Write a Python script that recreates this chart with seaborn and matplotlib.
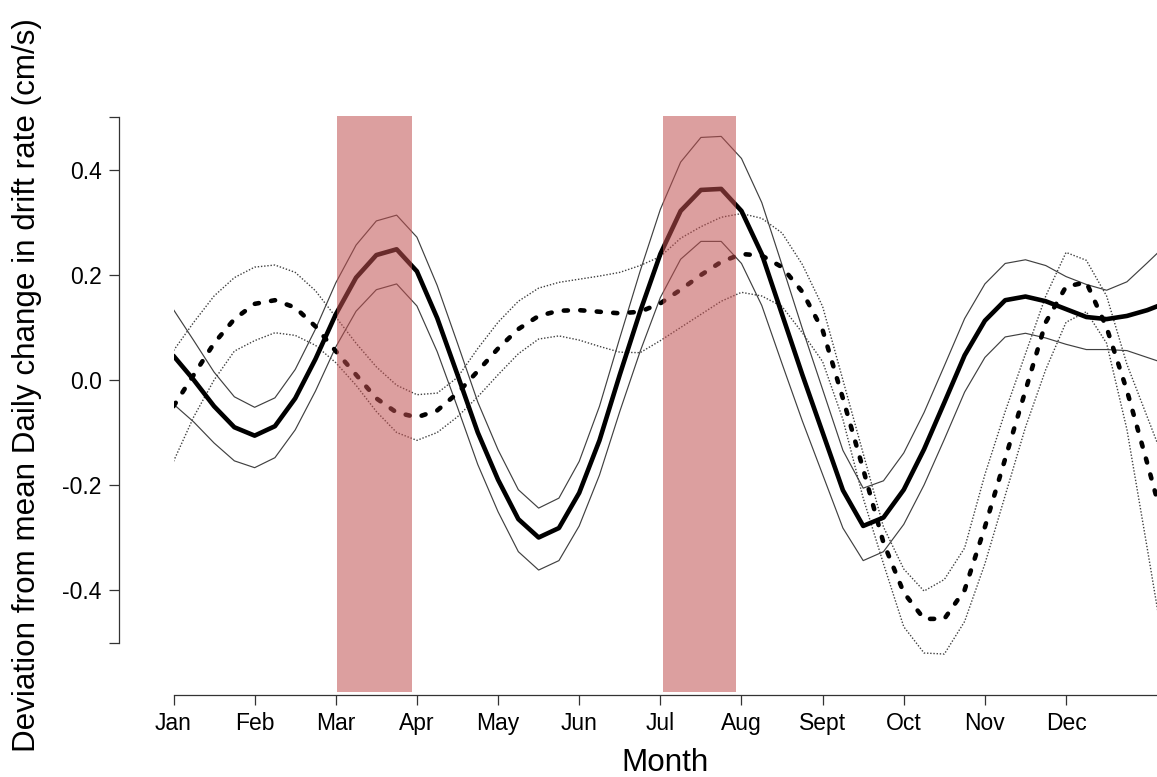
import seaborn as sns
from matplotlib import pyplot as plt

# sample positions (month number, 1 = Jan) at which the curves were read
months = [1.00, 1.25, 1.50, 1.75, 2.00, 2.25, 2.50, 2.75, 3.00, 3.25,
          3.50, 3.75, 4.00, 4.25, 4.50, 4.75, 5.00, 5.25, 5.50, 5.75,
          6.00, 6.25, 6.50, 6.75, 7.00, 7.25, 7.50, 7.75, 8.00, 8.25,
          8.50, 8.75, 9.00, 9.25, 9.50, 9.75, 10.00, 10.25, 10.50, 10.75,
          11.00, 11.25, 11.50, 11.75, 12.00, 12.25, 12.50, 12.75, 13.00, 13.25]

# solid group: fitted mean and its confidence limits
mean_a = [0.046, 0.0, -0.05, -0.09, -0.106, -0.088, -0.035, 0.04, 0.125, 0.195,
          0.238, 0.249, 0.207, 0.118, 0.01, -0.1, -0.19, -0.265, -0.3, -0.282,
          -0.215, -0.115, 0.01, 0.13, 0.24, 0.322, 0.362, 0.364, 0.322, 0.24,
          0.125, 0.01, -0.1, -0.21, -0.278, -0.262, -0.209, -0.132, -0.043, 0.047,
          0.113, 0.152, 0.159, 0.15, 0.135, 0.12, 0.116, 0.122, 0.133, 0.148]
upper_a = [0.134, 0.075, 0.015, -0.032, -0.052, -0.034, 0.02, 0.097, 0.185, 0.257,
           0.303, 0.314, 0.272, 0.18, 0.07, -0.042, -0.133, -0.209, -0.244, -0.225,
           -0.155, -0.05, 0.08, 0.207, 0.325, 0.415, 0.462, 0.464, 0.422, 0.338,
           0.219, 0.098, -0.018, -0.134, -0.206, -0.192, -0.139, -0.062, 0.027, 0.117,
           0.183, 0.222, 0.229, 0.218, 0.197, 0.182, 0.171, 0.187, 0.223, 0.26]
lower_a = [-0.046, -0.08, -0.12, -0.154, -0.167, -0.148, -0.095, -0.021, 0.063, 0.131,
           0.172, 0.183, 0.141, 0.054, -0.052, -0.161, -0.251, -0.327, -0.362, -0.344,
           -0.278, -0.181, -0.06, 0.054, 0.157, 0.23, 0.264, 0.264, 0.222, 0.142,
           0.031, -0.078, -0.18, -0.282, -0.344, -0.327, -0.275, -0.2, -0.113, -0.023,
           0.043, 0.082, 0.089, 0.08, 0.068, 0.058, 0.058, 0.056, 0.043, 0.03]

# dashed group: fitted mean and its confidence limits
mean_b = [-0.05, 0.01, 0.07, 0.116, 0.145, 0.152, 0.138, 0.102, 0.055, 0.01,
          -0.035, -0.062, -0.071, -0.058, -0.025, 0.017, 0.06, 0.097, 0.122, 0.132,
          0.133, 0.13, 0.127, 0.13, 0.146, 0.172, 0.2, 0.225, 0.24, 0.237,
          0.215, 0.168, 0.095, -0.035, -0.17, -0.31, -0.405, -0.455, -0.455, -0.4,
          -0.28, -0.15, -0.02, 0.11, 0.178, 0.186, 0.1, -0.02, -0.158, -0.3]
upper_b = [0.056, 0.11, 0.16, 0.195, 0.215, 0.219, 0.205, 0.17, 0.12, 0.07,
           0.025, -0.01, -0.028, -0.025, 0.005, 0.06, 0.11, 0.15, 0.175, 0.186,
           0.192, 0.198, 0.205, 0.218, 0.235, 0.27, 0.292, 0.31, 0.317, 0.308,
           0.28, 0.22, 0.14, 0.0, -0.14, -0.28, -0.36, -0.402, -0.38, -0.32,
           -0.18, -0.06, 0.05, 0.16, 0.243, 0.228, 0.16, 0.03, -0.07, -0.17]
lower_b = [-0.155, -0.07, 0.0, 0.055, 0.075, 0.09, 0.085, 0.066, 0.033, -0.01,
           -0.06, -0.1, -0.115, -0.1, -0.07, -0.032, 0.01, 0.05, 0.078, 0.084,
           0.076, 0.064, 0.053, 0.052, 0.075, 0.1, 0.125, 0.15, 0.167, 0.16,
           0.14, 0.09, 0.035, -0.075, -0.225, -0.35, -0.47, -0.52, -0.522, -0.46,
           -0.35, -0.22, -0.09, 0.02, 0.11, 0.13, 0.07, -0.094, -0.32, -0.55]

# shaded periods (month positions)
periods = [(3.02, 3.94), (7.03, 7.93)]

month_ticks = [1, 2, 3, 4, 5, 6, 7, 8, 9, 10, 11, 12]
month_labels = ['Jan', 'Feb', 'Mar', 'Apr', 'May', 'Jun',
                'Jul', 'Aug', 'Sept', 'Oct', 'Nov', 'Dec']
y_ticks = [-0.5, -0.4, -0.2, 0.0, 0.2, 0.4, 0.5]
y_labels = ['', '-0.4', '-0.2', '0.0', '0.2', '0.4', '']

sns.set_theme(style="ticks")
plt.rcParams['font.family'] = ['Liberation Sans', 'DejaVu Sans']

fig = plt.figure(figsize=(11.57, 7.77), dpi=100)
ax = fig.add_axes([173.5 / 1157, 82 / 777, 983.5 / 1157, 582.75 / 777])

thin = '#404040'
smooth = dict(solid_joinstyle='round', dash_joinstyle='round')
sns.lineplot(x=months, y=upper_a, ax=ax, color=thin, linewidth=0.85, **smooth)
sns.lineplot(x=months, y=lower_a, ax=ax, color=thin, linewidth=0.85, **smooth)
sns.lineplot(x=months, y=upper_b, ax=ax, color=thin, linewidth=1.0,
             linestyle=(0, (1, 1.3)), **smooth)
sns.lineplot(x=months, y=lower_b, ax=ax, color=thin, linewidth=1.0,
             linestyle=(0, (1, 1.3)), **smooth)
sns.lineplot(x=months, y=mean_b, ax=ax, color='black', linewidth=3.3,
             linestyle=(0, (0.9, 2.7)), dash_capstyle='round', **smooth)
sns.lineplot(x=months, y=mean_a, ax=ax, color='black', linewidth=3.3, **smooth)

# semi transparent bars drawn over the curves
for x0, x1 in periods:
    ax.fill_between([x0, x1], -0.594, 0.503, color='#c05050', alpha=0.55,
                    linewidth=0, zorder=5)

ax.set_xlim(1, 13.121)
ax.set_ylim(-0.6, 0.51)
ax.set_xticks(month_ticks)
ax.set_xticklabels(month_labels)
ax.set_yticks(y_ticks)
ax.set_yticklabels(y_labels)
ax.set_xlabel('')
ax.set_ylabel('')

for side in ['top', 'right']:
    ax.spines[side].set_visible(False)
ax.spines['left'].set_position(('outward', 39))
ax.spines['left'].set_bounds(-0.5, 0.5)
for side in ['left', 'bottom']:
    ax.spines[side].set_color('#333333')
    ax.spines[side].set_linewidth(0.9)

ax.tick_params(axis='both', direction='out', length=7.2, width=0.9,
               color='#333333', labelsize=16.5, labelcolor='black',
               bottom=True, left=True)
ax.tick_params(axis='y', pad=5.5)
ax.tick_params(axis='x', pad=5)
ax.grid(False)

fig.text(27 / 1157, 1 - 385 / 777,
         'Deviation from mean Daily change in drift rate (cm/s)',
         rotation=90, ha='center', va='center', fontsize=22.6, color='black')
fig.text(665 / 1157, 1 - 763 / 777, 'Month', ha='center', va='center',
         fontsize=22.6, color='black')

fig.savefig('out.png', dpi=100)
